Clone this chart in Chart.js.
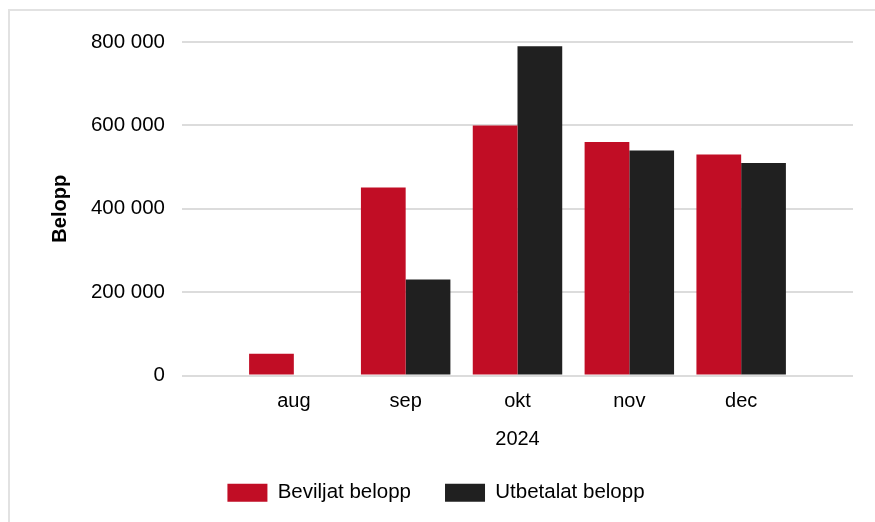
<!DOCTYPE html>
<html>
<head>
<meta charset="utf-8">
<script src="https://cdn.jsdelivr.net/npm/chart.js@4/dist/chart.umd.min.js"></script>
<style>
	html, body { margin: 0; padding: 0; background: #fff; overflow: hidden; }
	.frame {
		position: absolute; left: 8px; top: 9px; width: 920px; height: 600px;
		border: 2px solid #e2e2e2;
	}
	#chart { position: absolute; left: 0; top: 0; }
</style>
</head>
<body>
<div class="frame"></div>
<canvas id="chart" width="875" height="522"></canvas>
<script>
const months = ['aug', 'sep', 'okt', 'nov', 'dec'];
const beviljat = [52000, 451000, 600000, 560000, 530000];
const utbetalat = [null, 230000, 790000, 540000, 510000];
const yTicks = [0, 200000, 400000, 600000, 800000];

const FONT = 'Arial, "Liberation Sans", sans-serif';

function fmt(v) {
	return String(v).replace(/\B(?=(\d{3})+(?!\d))/g, ' ');
}

function points(values) {
	return values.map((v, i) => ({x: i, y: v}));
}

new Chart('chart', {
	type: 'bar',
	data: {
		datasets: [{
			label: 'Beviljat belopp',
			data: points(beviljat),
			backgroundColor: '#c10d25'
		}, {
			label: 'Utbetalat belopp',
			data: points(utbetalat),
			backgroundColor: '#202020'
		}]
	},
	options: {
		responsive: false,
		animation: false,
		categoryPercentage: 0.8,
		barPercentage: 1.0,
		// left padding kept small so the bottom legend centres on the canvas
		layout: {padding: {left: 19, right: 22, top: 42, bottom: 9}},
		font: {family: FONT, size: 20},
		color: '#000',
		scales: {
			x: {
				type: 'linear',
				min: -1,
				max: 5,
				offset: false,
				grid: {display: false, drawTicks: false},
				border: {display: false},
				afterBuildTicks: axis => {
					axis.ticks = months.map((m, i) => ({value: i}));
				},
				ticks: {
					color: '#000',
					padding: 14,
					autoSkip: false,
					maxRotation: 0,
					font: {family: FONT, size: 20},
					callback: v => months[v] ?? ''
				},
				title: {
					display: true,
					text: '2024',
					color: '#000',
					font: {family: FONT, size: 20},
					padding: {top: 0, bottom: -3}
				}
			},
			y: {
				min: 0,
				max: 800000,
				afterBuildTicks: axis => {
					axis.ticks = yTicks.map(v => ({value: v}));
				},
				afterFit: axis => { axis.width = 163; },
				grid: {color: '#dcdcdc', lineWidth: 2, drawTicks: false},
				border: {display: false},
				ticks: {
					color: '#000',
					padding: 17,
					font: {family: FONT, size: 20.5},
					callback: v => fmt(v)
				},
				title: {
					display: true,
					text: 'Belopp',
					color: '#000',
					font: {family: FONT, size: 20, weight: 'bold'},
					padding: {top: 29, bottom: 0}
				}
			}
		},
		plugins: {
			tooltip: {enabled: false},
			legend: {
				position: 'bottom',
				labels: {
					boxWidth: 40,
					boxHeight: 18,
					padding: 34,
					color: '#000',
					font: {family: FONT, size: 20.5}
				}
			}
		}
	}
});
</script>
</body>
</html>
